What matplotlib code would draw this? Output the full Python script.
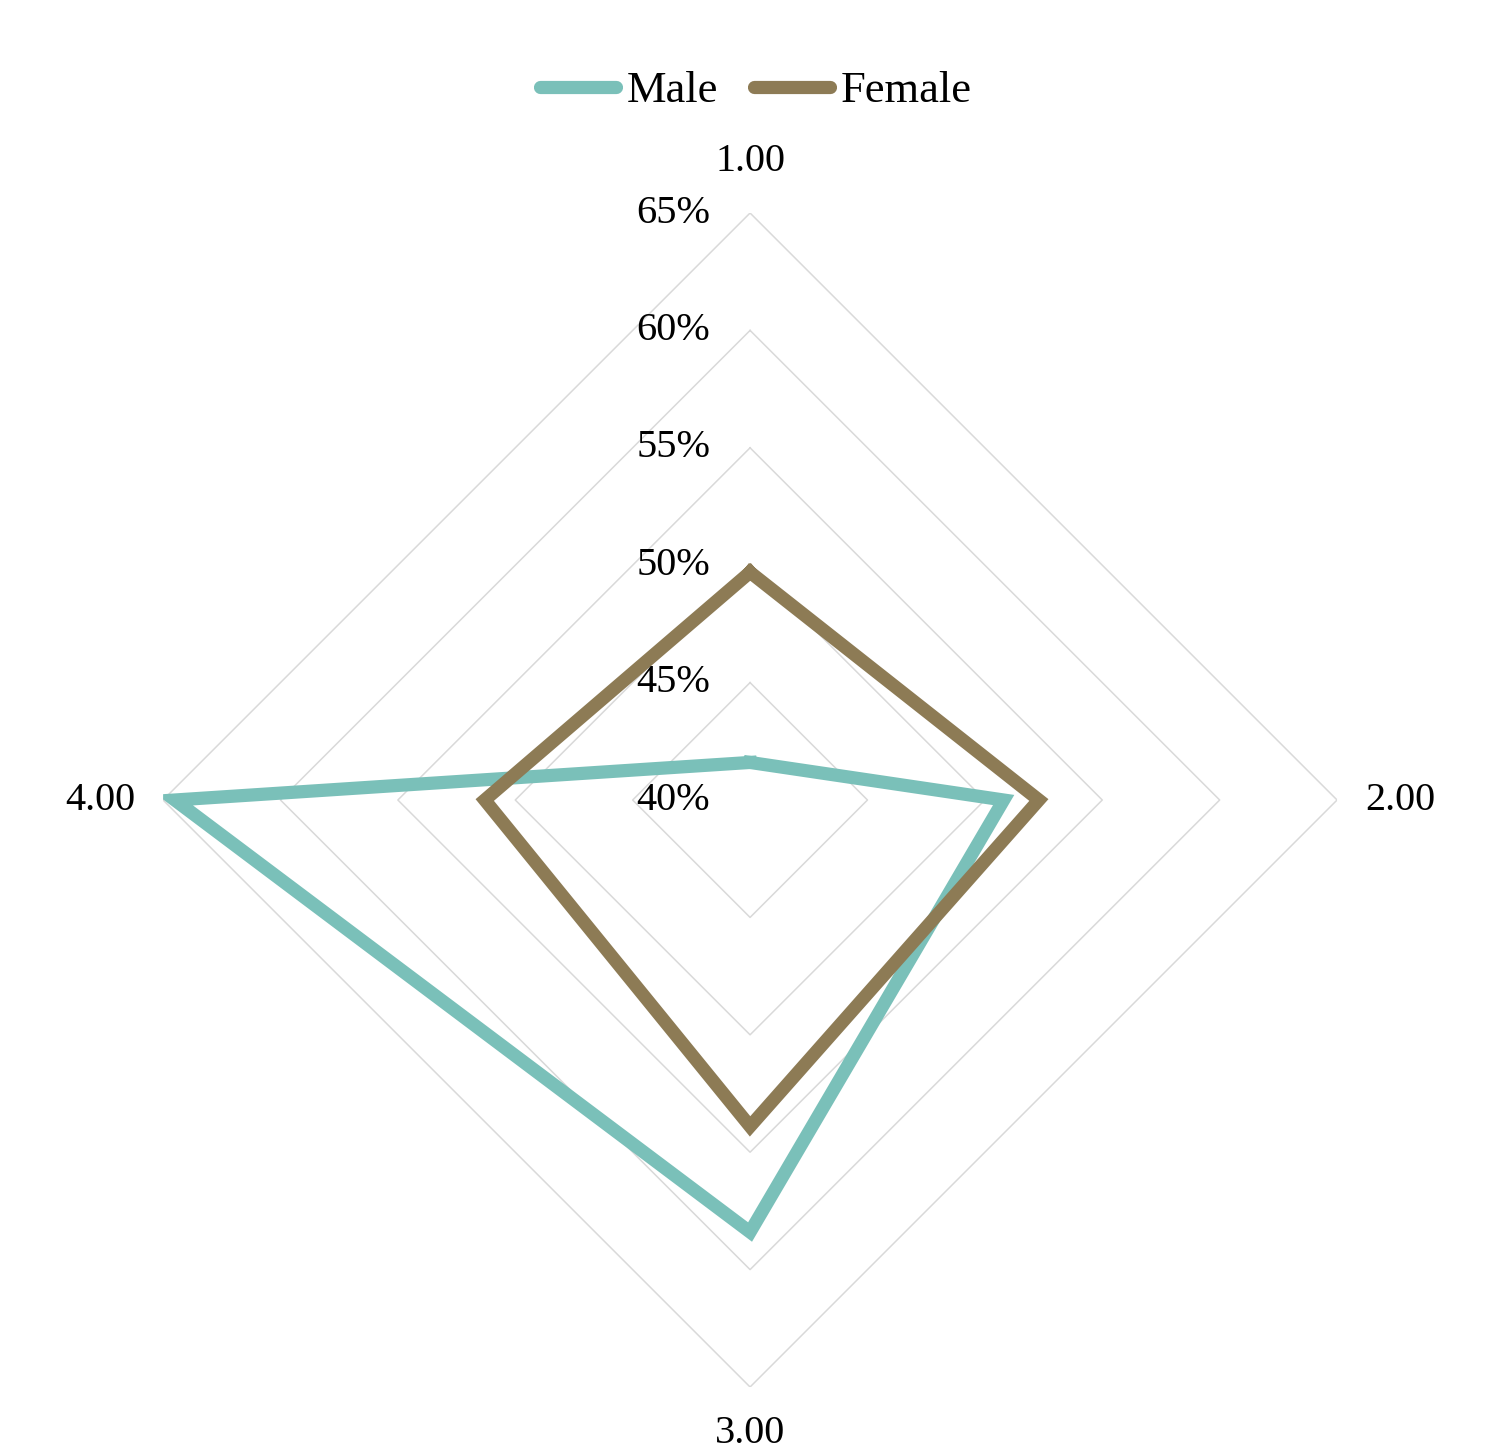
import numpy as np
import matplotlib.pyplot as plt

# axes of the radar, clockwise from the top
categories = ['1.00', '2.00', '3.00', '4.00']
male = [41.6, 50.8, 58.4, 64.5]
female = [49.7, 52.3, 53.9, 51.3]
rings = [40, 45, 50, 55, 60, 65]
ring_labels = ['40%', '45%', '50%', '55%', '60%', '65%']

plt.rcParams['font.family'] = ['Liberation Serif', 'DejaVu Serif']

fig = plt.figure(figsize=(14.97, 14.51), dpi=100)
ax = fig.add_axes([0.1089, 0.0441, 0.7843, 0.8091], projection='polar')
ax.set_theta_zero_location('N')
ax.set_theta_direction(-1)
ax.set_ylim(40, 65)
ax.grid(False)
ax.spines['polar'].set_visible(False)
ax.set_xticks([])
ax.set_yticks([])

theta = np.deg2rad(np.arange(len(categories)) * 360.0 / len(categories))
closed = np.append(theta, theta[0])

# diamond gridlines
for r in rings[1:]:
    ax.plot(closed, [r] * len(closed), color='#d9d9d9', lw=1.1, zorder=1)

l_male, = ax.plot(closed, male + male[:1], color='#7ac0b9', lw=9.5,
                  solid_joinstyle='miter', zorder=3, label='Male')
l_fem, = ax.plot(closed, female + female[:1], color='#8d7b55', lw=9.5,
                 solid_joinstyle='miter', zorder=4, label='Female')

# radial value labels, left of the top spoke
for r, lab in zip(rings, ring_labels):
    ax.annotate(lab, xy=(0, r), xytext=(-40, 0), textcoords='offset pixels',
                ha='right', va='center', fontsize=29, zorder=5)

# category labels outside the outer ring
offsets = [(0, 52), (63, 0), (0, -46), (-63, 0)]
for t, lab, off in zip(theta, categories, offsets):
    ax.annotate(lab, xy=(t, 65), xytext=off, textcoords='offset pixels',
                ha='center', va='center', fontsize=29)

leg = fig.legend(handles=[l_male, l_fem], loc='center', ncol=2,
                 bbox_to_anchor=(0.505, 0.937), frameon=False, fontsize=32,
                 handlelength=1.7, handletextpad=0.25, columnspacing=0.8)
for h in leg.legend_handles:
    h.set_solid_capstyle('round')

fig.savefig('out.png', dpi=100, facecolor='white')
